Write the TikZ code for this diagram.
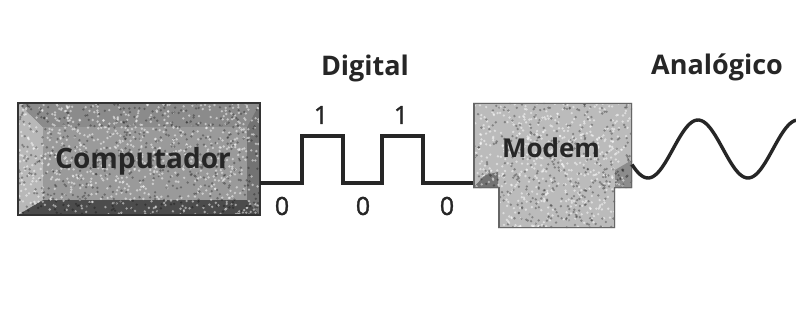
\documentclass[tikz,border=0pt]{standalone}
\usepackage{fontspec}
\setmainfont{Open Sans}
\newfontfamily\digitfont{Open Sans}[FakeBold=1.2]
\definecolor{compface}{HTML}{9A9A9A}
\definecolor{modface}{HTML}{BBBBBB}
\tikzset{
  x=1pt, y=-1pt,
  lbl/.style={inner sep=0pt, text=black!85},
  digit/.style={inner sep=0pt, font=\digitfont\fontsize{25}{25}\selectfont, text=black!85},
  sig/.style={line width=3.4pt, black!85, line join=miter},
  speck/.style={fill=white, opacity=0.5},
  dspeck/.style={fill=black, opacity=0.3}
}
\begin{document}
\begin{tikzpicture}
\useasboundingbox (0,0) rectangle (796,329);
\fill[white] (0,0) rectangle (796,329);
% ---- Computador box with bevel
\fill[compface!80!black] (18,103) rectangle (260,215);
\fill[compface!70!white] (18,103) -- (43,127) -- (43,200) -- (18,215) -- cycle;
\fill[black!70] (18,215) -- (43,200) -- (247,200) -- (260,215) -- cycle;
\fill[black!55] (260,103) -- (247,127) -- (247,200) -- (260,215) -- cycle;
\fill[compface!90!black] (18,103) -- (260,103) -- (247,127) -- (43,127) -- cycle;
\fill[compface] (43,127) rectangle (247,200);
\pgfmathsetseed{11}
\begin{scope}
\clip (18,103) rectangle (260,215);
\foreach \i in {1,...,800} {\fill[speck] ({18+242*rnd},{103+112*rnd}) circle (1.3);}
\foreach \i in {1,...,500} {\fill[dspeck] ({18+242*rnd},{103+112*rnd}) circle (1.3);}
\end{scope}
\draw[black!80, line width=1.5pt] (18,103) rectangle (260,215);
\node[lbl, font=\fontsize{28}{28}\selectfont\bfseries] (comp) at (143,161) {Computador};
% ---- Modem box
\fill[modface] (473,103) -- (632,103) -- (632,188) -- (615,188) -- (615,228) -- (498,228) -- (498,188) -- (473,188) -- cycle;
\fill[black!55] (473,188) -- (498,188) -- (498,172) -- (485,175) -- cycle;
\fill[black!45] (632,188) -- (615,188) -- (615,170) -- (632,160) -- cycle;
\begin{scope}
\clip (473,103) -- (632,103) -- (632,188) -- (615,188) -- (615,228) -- (498,228) -- (498,188) -- (473,188) -- cycle;
\foreach \i in {1,...,600} {\fill[speck] ({473+159*rnd},{103+125*rnd}) circle (1.3);}
\foreach \i in {1,...,400} {\fill[dspeck] ({473+159*rnd},{103+125*rnd}) circle (1.3);}
\draw[black!60, line width=3pt] (473,103) -- (632,103) -- (632,188) -- (615,188) -- (615,228) -- (498,228) -- (498,188) -- (473,188) -- cycle;
\end{scope}
\node[lbl, font=\fontsize{26}{26}\selectfont\bfseries] (modem) at (551,148) {Modem};
% ---- digital signal
\coordinate (s0) at (260,183);
\coordinate (s1) at (473,183);
\draw[sig] (s0) -- (302,183) -- (302,136) -- (343,136) -- (343,183) -- (382,183) -- (382,136) -- (423,136) -- (423,183) -- (s1);
\node[digit] (one1) at (321,115) {1};
\node[digit] (one2) at (401,115) {1};
\node[digit] (z1) at (282,206) {0};
\node[digit] (z2) at (363,206) {0};
\node[digit] (z3) at (447,206) {0};
\node[lbl, font=\fontsize{27}{27}\selectfont\bfseries] (dig) at (365,68) {Digital};
% ---- analog signal
\draw[sig] plot[domain=632:796, samples=90, smooth] (\x, {149+29*cos(3.6*(\x-648))});
\node[lbl, font=\fontsize{27}{27}\selectfont\bfseries] (ana) at (717,67) {Analógico};
\end{tikzpicture}
\end{document}
